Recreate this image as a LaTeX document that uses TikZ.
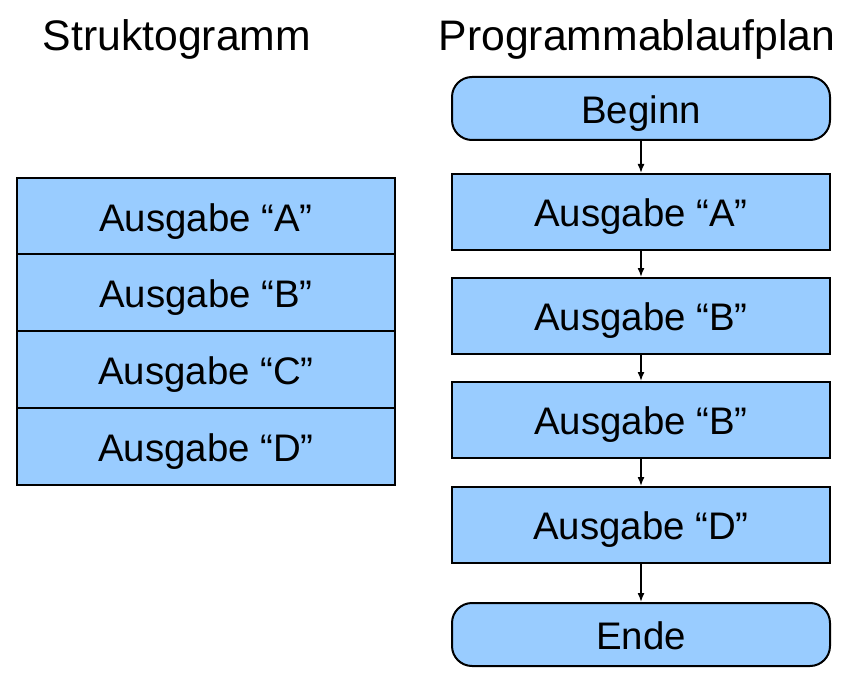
\documentclass[tikz,border=0pt]{standalone}
\usepackage{fontspec}
\setmainfont{Liberation Sans}
\usetikzlibrary{arrows.meta}
\definecolor{boxblue}{HTML}{99CCFF}
\begin{document}
\begin{tikzpicture}[x=1pt,y=-1pt,
  title/.style={font=\fontsize{42.7}{48}\selectfont, inner sep=0pt,
    text height=30.5pt, text depth=0pt},
  cell/.style={draw=black, line width=2pt, fill=boxblue, minimum width=378pt,
    minimum height=77pt, inner sep=0pt, font=\fontsize{38.4}{44}\selectfont,
    text height=33pt, text depth=3.6pt},
  process/.style={cell, minimum height=76pt},
  terminal/.style={cell, minimum height=63pt, rounded corners=20pt},
  flow/.style={line width=1.5pt, -{Latex[length=9pt,width=7pt]}}]
\useasboundingbox (0,0) rectangle (852,682);

% headings
\node[title] (t1) at (177,35) {Struktogramm};
\node[title] (t2) at (637,35) {Programmablaufplan};

% structogram: stacked sequence blocks
\node[cell] (s1) at (206,216.5) {Ausgabe “A”};
\node[cell] (s2) at (206,292.5) {Ausgabe “B”};
\node[cell] (s3) at (206,369.5) {Ausgabe “C”};
\node[cell] (s4) at (206,446.5) {Ausgabe “D”};

% flowchart
\node[terminal] (beg) at (641,108.5) {Beginn};
\node[process] (pa) at (641,212) {Ausgabe “A”};
\node[process] (pb) at (641,316) {Ausgabe “B”};
\node[process] (pc) at (641,420) {Ausgabe “B”};
\node[process] (pd) at (641,525) {Ausgabe “D”};
\node[terminal] (end) at (641,634.5) {Ende};

\draw[flow] (beg.south) -- (pa.north);
\draw[flow] (pa.south) -- (pb.north);
\draw[flow] (pb.south) -- (pc.north);
\draw[flow] (pc.south) -- (pd.north);
\draw[flow] (pd.south) -- (end.north);
\end{tikzpicture}
\end{document}
